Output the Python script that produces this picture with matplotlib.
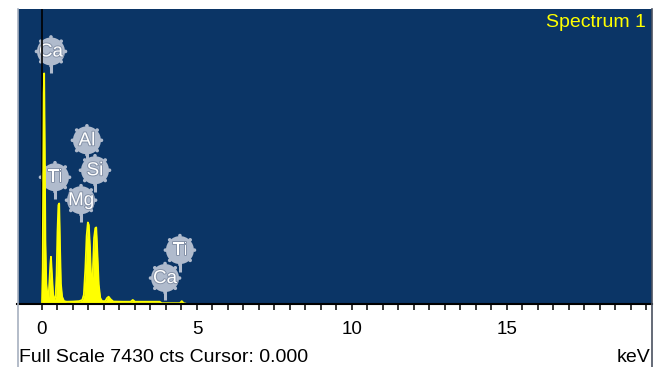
import matplotlib
matplotlib.use("Agg")
import matplotlib.pyplot as plt
import matplotlib.patheffects as pe
from matplotlib.patches import Circle
from matplotlib.lines import Line2D
from matplotlib.transforms import IdentityTransform
import numpy as np

plt.rcParams['font.family'] = ['Liberation Sans', 'DejaVu Sans']

FULL_SCALE = 7430      # cts
CURSOR_KEV = 0.0

# spectrum trace, keV vs counts (zero beyond the last point)
energy_kev = [0.0, 0.02, 0.04, 0.055, 0.07, 0.09, 0.11, 0.14, 0.18,
              0.21, 0.24, 0.27, 0.29, 0.32, 0.36, 0.40,
              0.44, 0.47, 0.50, 0.53, 0.555, 0.58, 0.61, 0.65, 0.71,
              0.80, 1.00, 1.20, 1.30,
              1.35, 1.40, 1.44, 1.48, 1.51, 1.55, 1.58, 1.61,
              1.64, 1.68, 1.72, 1.75, 1.78, 1.83, 1.88, 1.94,
              2.04, 2.10, 2.15, 2.21, 2.30,
              2.60, 2.86, 2.93, 3.00, 3.80, 3.86,
              4.45, 4.51, 4.57, 4.62]
counts = [0, 900, 3200, 5300, 5795, 3900, 1600, 500, 170,
          150, 550, 1000, 1177, 750, 220, 100,
          180, 700, 1800, 2480, 2520, 1500, 500, 170, 60,
          45, 50, 60, 90,
          220, 900, 1700, 2041, 1980, 1400, 700, 380,
          800, 1650, 1900, 1916, 1400, 480, 140, 60,
          60, 140, 171, 110, 50,
          45, 45, 90, 45, 45, 8,
          8, 60, 8, 0]

# element markers: name, line energy (keV), bubble height (cts)
label_names = ["Ca", "Al", "Si", "Ti", "Mg", "Ti", "Ca"]
label_kev = [0.29, 1.45, 1.71, 0.42, 1.26, 4.45, 3.97]
label_cts = [6348, 4110, 3356, 3180, 2602, 1345, 641]

tick_major = [0, 5, 10, 15]

fig = plt.figure(figsize=(6.64, 3.67), dpi=100)
W, H = 664.0, 367.0
left, right, top, bottom = 17.5, 652.0, 8.5, 303.5
ax = fig.add_axes([left / W, 1 - bottom / H, (right - left) / W, (bottom - top) / H])
ax.set_facecolor('#0b3566')
ax.set_xlim(-0.79, 19.68)
ax.set_ylim(0, FULL_SCALE)

ax.fill_between(energy_kev, counts, 0, color='#ffff00', lw=0, zorder=2.4)
ax.plot(energy_kev, counts, color='#ffff00', lw=1.3, zorder=2.4)
ax.axvline(CURSOR_KEV, color='black', lw=1.2, zorder=2.3)

for s in ['top', 'left', 'right']:
    ax.spines[s].set_visible(False)
ax.spines['bottom'].set_linewidth(1.5)
ax.spines['bottom'].set_color('black')
ax.set_yticks([])
ax.set_xticks(tick_major)
ax.set_xticks(np.arange(0, 19.6, 0.5), minor=True)
ax.tick_params(axis='x', which='both', direction='out', length=4.5, width=1.1,
               color='black', labelsize=13.5, pad=8)

ax.text(0.9905, 0.951, "Spectrum 1", transform=ax.transAxes, ha='right', va='center',
        fontsize=14, color='#ffff00')

# element bubbles, drawn in pixel units around each data point
bub = '#b0bbcd'
r = 14
for name, kx, cy in zip(label_names, label_kev, label_cts):
    px, py = ax.transData.transform((kx, cy))
    idt = IdentityTransform()
    ax.add_line(Line2D([px, px], [py - r + 2, py - r - 8], transform=idt,
                       color=bub, lw=2.2, zorder=2, solid_capstyle='butt'))
    for a in np.deg2rad(np.arange(0, 360, 45)):
        ax.add_patch(Circle((px + (r + 0.5) * np.cos(a), py + (r + 0.5) * np.sin(a)), 1.8,
                            transform=idt, color=bub, lw=0, zorder=2))
    ax.add_patch(Circle((px, py), r, transform=idt, color=bub, lw=0, zorder=2))
    ax.text(px, py - 0.5, name, transform=idt, ha='center', va='center', fontsize=13.5,
            color='white', zorder=2.1,
            path_effects=[pe.withStroke(linewidth=1.4, foreground='#8592a8')])

# outer frame lines down the sides
fig.add_artist(Line2D([left / W, left / W], [0, 1 - top / H], color='#a7b0c0', lw=1.2))
fig.add_artist(Line2D([right / W, right / W], [0, 1 - top / H], color='#4a5160', lw=1.2))

fig.text(19 / W, 1 - 357 / H, f"Full Scale {FULL_SCALE} cts Cursor: {CURSOR_KEV:.3f}",
         fontsize=14, va='center', ha='left')
fig.text(650 / W, 1 - 357 / H, "keV", fontsize=14, va='center', ha='right')

fig.savefig("out.png", dpi=100)
